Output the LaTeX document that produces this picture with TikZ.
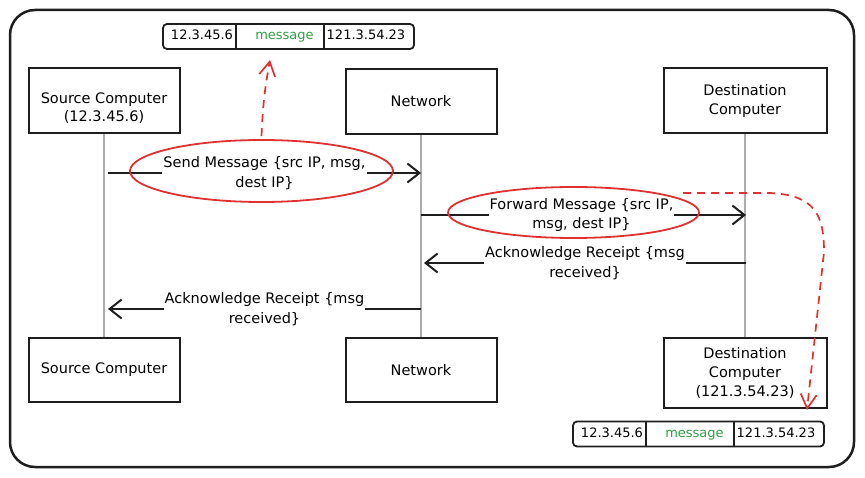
\documentclass[tikz,border=0pt]{standalone}
\usepackage{fontspec}
\setmainfont{DejaVu Sans}
\usetikzlibrary{arrows.meta,shapes.geometric}
\definecolor{ink}{HTML}{1E1E1E}
\definecolor{xred}{HTML}{E03131}
\definecolor{xgreen}{HTML}{2F9E44}
\definecolor{lifegray}{HTML}{ADADAD}
\begin{document}
\begin{tikzpicture}[x=1pt,y=-1pt,
  actor/.style={draw=ink,line width=2pt,fill=white,minimum width=151pt,minimum height=65pt,align=center,inner sep=0pt,font=\fontsize{14.5}{19}\selectfont},
  actortext/.style={align=center,inner sep=0pt,font=\fontsize{14.5}{18}\selectfont},
  life/.style={draw=lifegray,line width=1.1pt},
  msg/.style={draw=ink,line width=2pt,-{Straight Barb[length=12pt,width=19pt]}},
  lbl/.style={fill=white,align=center,inner sep=1pt,font=\fontsize{14.5}{19.5}\selectfont},
  circ/.style={draw=xred,line width=1.8pt,ellipse,inner sep=0pt},
  rdash/.style={draw=xred,line width=1.7pt,dash pattern=on 8pt off 6pt,-{Straight Barb[length=14pt,width=16pt]}},
  packet/.style={draw=ink,line width=1.8pt,rounded corners=4pt,minimum width=251pt,minimum height=25pt,inner sep=0pt},
  pktxt/.style={inner sep=0pt,text height=9.5pt,text depth=2.5pt,font=\fontsize{13}{14}\selectfont},
  divider/.style={draw=ink,line width=1.6pt}]
\useasboundingbox (0,0) rectangle (865,478);
\draw[ink,line width=2.5pt,rounded corners=25pt] (10,10) rectangle (854,467);

% packets
\node[packet] (pk1) at (288.5,36.5) {};
\node[packet] (pk2) at (698.5,434) {};
\foreach \p in {pk1,pk2}{
  \draw[divider] ([xshift=-52.5pt]\p.north) -- ([xshift=-52.5pt]\p.south);
  \draw[divider] ([xshift=35.5pt]\p.north) -- ([xshift=35.5pt]\p.south);
}
\node[pktxt] (pk1a) at ([xshift=-86.5pt]pk1.center) {12.3.45.6};
\node[pktxt,text=xgreen] (pk1b) at ([xshift=-4pt]pk1.center) {message};
\node[pktxt] (pk1c) at ([xshift=77.5pt]pk1.center) {121.3.54.23};
\node[pktxt] (pk2a) at ([xshift=-86.5pt]pk2.center) {12.3.45.6};
\node[pktxt,text=xgreen] (pk2b) at ([xshift=-4pt]pk2.center) {message};
\node[pktxt] (pk2c) at ([xshift=77.5pt]pk2.center) {121.3.54.23};

% lifeline heads and feet
\node[actor] (srcT) at (104,101) {};
\node[actortext] (srcTtxt) at (104,108.5) {Source Computer\\(12.3.45.6)};
\node[actor] (netT) at (421,101.5) {Network};
\node[actor,minimum width=163pt] (dstT) at (745,101) {Destination\\Computer};
\node[actor,minimum height=64pt] (srcB) at (104,370) {Source Computer};
\node[actor,minimum height=64pt] (netB) at (421,370) {Network};
\node[actor,minimum width=163pt,minimum height=70pt] (dstB) at (745,373) {Destination\\Computer\\(121.3.54.23)};

\draw[life] (srcT.south) -- (srcB.north);
\draw[life] (netT.south) -- (netB.north);
\draw[life] (dstT.south) -- (dstB.north);

% message end points on the lifelines
\coordinate (m1a) at (108,173);
\coordinate (m1b) at (421,173);
\coordinate (m2a) at (421,215);
\coordinate (m2b) at (746,215);
\coordinate (m3a) at (746,263);
\coordinate (m3b) at (424,263);
\coordinate (m4a) at (421,309);
\coordinate (m4b) at (108,309);

\draw[msg] (m1a) -- (m1b) node[lbl,midway] (l1) {Send Message \{src IP, msg,\\dest IP\}};
\draw[msg] (m2a) -- (m2b) node[lbl,midway,xshift=-2pt] (l2) {Forward Message \{src IP,\\msg, dest IP\}};
\draw[msg] (m3a) -- (m3b) node[lbl,midway] (l3) {Acknowledge Receipt \{msg\\received\}};
\draw[msg] (m4a) -- (m4b) node[lbl,midway] (l4) {Acknowledge Receipt \{msg\\received\}};

% red highlights
\node[circ,minimum width=263pt,minimum height=62pt] (e1) at (261.5,171) {};
\node[circ,minimum width=251pt,minimum height=51pt] (e2) at (573.5,212.5) {};

\coordinate (t1) at (270,60);
\draw[rdash] ([yshift=3pt]e1.north) to[bend left=4] (t1);

\coordinate (d2) at (683,193);
\coordinate (t2) at (807,410);
\draw[rdash] (d2) -- (770,193) .. controls (815,195) and (824,215) .. (824,252) -- (t2);
\end{tikzpicture}
\end{document}
